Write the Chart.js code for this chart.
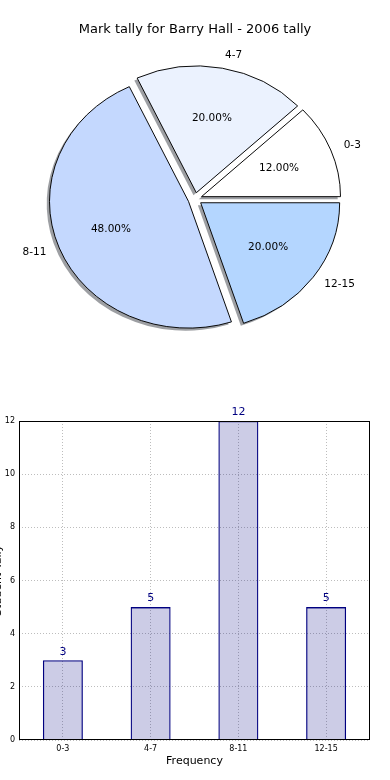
<!DOCTYPE html>
<html>
<head>
<meta charset="utf-8">
<script src="https://cdn.jsdelivr.net/npm/chart.js@4.4.1/dist/chart.umd.min.js"></script>
<style>
  html, body { margin: 0; padding: 0; background: #fff; }
  #pieBox { position: absolute; left: 0; top: 0; width: 390px; height: 400px; }
  #barBox { position: absolute; left: 0; top: 400px; width: 390px; height: 380px; }
</style>
</head>
<body>
<div id="pieBox"><canvas id="pieChart"></canvas></div>
<div id="barBox"><canvas id="barChart"></canvas></div>
<script>
// data
const categories = ['0-3', '4-7', '8-11', '12-15'];
const tally = [3, 5, 12, 5];
const sliceColors = ['#ffffff', '#ebf2fe', '#c4d8fe', '#b4d6ff'];
const yTicks = [0, 2, 4, 6, 8, 10, 12];

const total = tally.reduce((a, b) => a + b, 0);
const FONT = 'DejaVu Sans';

// matplotlib draws counter-clockwise from 3 o'clock, chart.js clockwise -> reverse
const pieLabels = categories.slice().reverse();
const pieValues = tally.slice().reverse();
const pieColors = sliceColors.slice().reverse();

const squash = 0.912;   // pie is drawn as an ellipse
const explode = 7;

const pieDraw = {
  id: 'pieDraw',
  beforeDatasetsDraw(chart) {
    const ctx = chart.ctx;
    const arcs = chart.getDatasetMeta(0).data;
    const cx = arcs[0].x, cy = arcs[0].y;

    ctx.save();
    ctx.translate(cx, cy);
    ctx.scale(1, squash);
    ctx.translate(-cx, -cy);

    // shadows
    arcs.forEach(arc => {
      const mid = (arc.startAngle + arc.endAngle) / 2;
      const ox = Math.cos(mid) * explode - 2.8;
      const oy = Math.sin(mid) * explode + 2.8;
      ctx.beginPath();
      ctx.moveTo(arc.x + ox, arc.y + oy);
      ctx.arc(arc.x + ox, arc.y + oy, arc.outerRadius, arc.startAngle, arc.endAngle);
      ctx.closePath();
      ctx.fillStyle = 'rgba(60,64,72,0.5)';
      ctx.fill();
    });

    // slices
    arcs.forEach(arc => {
      const mid = (arc.startAngle + arc.endAngle) / 2;
      ctx.save();
      ctx.translate(Math.cos(mid) * explode, Math.sin(mid) * explode);
      arc.draw(ctx);
      ctx.restore();
    });
    ctx.restore();

    // labels
    ctx.save();
    ctx.fillStyle = '#000';
    ctx.textBaseline = 'middle';
    ctx.font = '10.5px "' + FONT + '"';
    arcs.forEach((arc, i) => {
      const mid = (arc.startAngle + arc.endAngle) / 2;
      const c = Math.cos(mid), s = Math.sin(mid);
      const r = arc.outerRadius;

      ctx.textAlign = c > 0 ? 'left' : 'right';
      let d = explode + r * 1.1;
      ctx.fillText(pieLabels[i], cx + d * c, cy + d * s * squash);

      ctx.textAlign = 'center';
      d = explode + r * 0.6;
      const pct = (pieValues[i] / total * 100).toFixed(2) + '%';
      ctx.fillText(pct, cx + d * c, cy + d * s * squash);
    });
    ctx.restore();
    return false;
  }
};

new Chart(document.getElementById('pieChart'), {
  type: 'pie',
  data: {
    labels: pieLabels,
    datasets: [{
      data: pieValues,
      backgroundColor: pieColors,
      borderColor: '#000',
      borderWidth: 1,
      radius: 139
    }]
  },
  options: {
    animation: false,
    responsive: true,
    maintainAspectRatio: false,
    events: [],
    rotation: 90,
    layout: { padding: { bottom: 49.6 } },
    plugins: {
      legend: { display: false },
      tooltip: { enabled: false },
      title: {
        display: true,
        text: 'Mark tally for Barry Hall - 2006 tally',
        color: '#000',
        font: { family: FONT, size: 13, weight: 'normal' },
        padding: { top: 22, bottom: 10 }
      }
    }
  },
  plugins: [pieDraw]
});

const frame = {
  id: 'frame',
  afterDatasetsDraw(chart) {
    const { ctx, chartArea: a } = chart;
    ctx.save();
    ctx.strokeStyle = '#000';
    ctx.lineWidth = 1;
    ctx.strokeRect(Math.round(a.left) + 0.5, Math.round(a.top) + 0.5,
      Math.round(a.right - a.left) - 1, Math.round(a.bottom - a.top) - 1);
    ctx.restore();
  }
};

const valueLabels = {
  id: 'valueLabels',
  afterDatasetsDraw(chart) {
    const ctx = chart.ctx;
    ctx.save();
    ctx.fillStyle = '#000080';
    ctx.font = '11px "' + FONT + '"';
    ctx.textAlign = 'center';
    ctx.textBaseline = 'bottom';
    chart.getDatasetMeta(0).data.forEach((bar, i) => {
      ctx.fillText(String(tally[i]), bar.x, bar.y - 3);
    });
    ctx.restore();
  }
};

new Chart(document.getElementById('barChart'), {
  type: 'bar',
  data: {
    labels: categories,
    datasets: [{
      data: tally,
      backgroundColor: 'rgba(0,0,128,0.2)',
      borderColor: '#000080',
      borderWidth: 1.3,
      barPercentage: 0.456,
      categoryPercentage: 1
    }]
  },
  options: {
    animation: false,
    responsive: true,
    maintainAspectRatio: false,
    events: [],
    layout: { padding: { top: 21, right: 20, left: 0, bottom: 0 } },
    plugins: {
      legend: { display: false },
      tooltip: { enabled: false }
    },
    scales: {
      x: {
        grid: { offset: false, color: '#bdbdbd', drawTicks: false },
        border: { display: false, dash: [1, 2] },
        ticks: { color: '#000', font: { family: FONT, size: 8 }, padding: 4, maxRotation: 0 },
        title: {
          display: true, text: 'Frequency', color: '#000',
          font: { family: FONT, size: 11 }, padding: { top: 0, bottom: 12 }
        },
        afterFit(s) { s.height = 40; }
      },
      y: {
        min: 0,
        max: 12,
        afterBuildTicks(s) { s.ticks = yTicks.map(v => ({ value: v })); },
        grid: { color: '#bdbdbd', drawTicks: false },
        border: { display: false, dash: [1, 2] },
        ticks: { color: '#000', font: { family: FONT, size: 8 }, padding: 4 },
        title: {
          display: true, text: 'Student Tally', color: '#000',
          font: { family: FONT, size: 11 }, padding: { top: -8 }
        },
        afterFit(s) { s.width = 19; }
      }
    }
  },
  plugins: [frame, valueLabels]
});
</script>
</body>
</html>
